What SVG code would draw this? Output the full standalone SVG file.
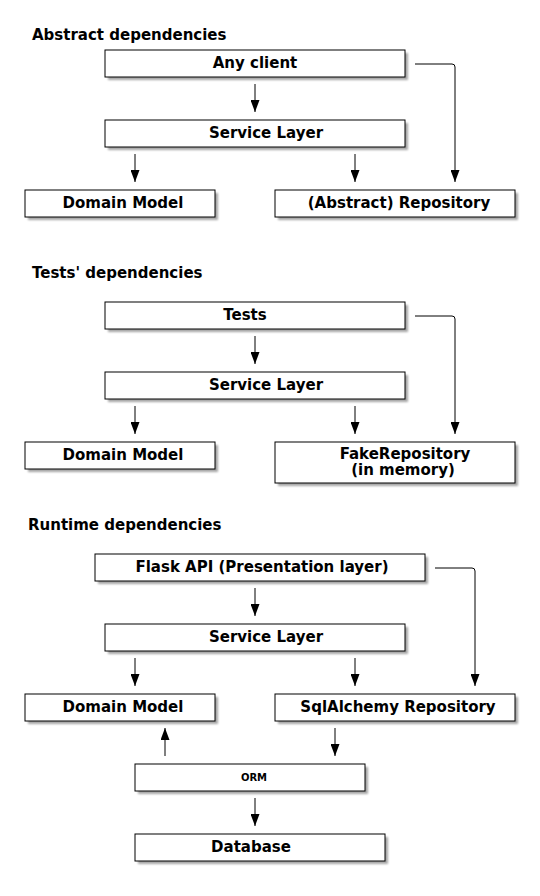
<svg xmlns="http://www.w3.org/2000/svg" width="540" height="896" viewBox="0 0 540 896">
<style>
text{font-family:"DejaVu Sans",sans-serif;font-weight:bold;font-size:15px;fill:#000}
.lbl{text-anchor:middle}
.box{fill:#fff;stroke:#000;stroke-width:1}
.sh{fill:#000;opacity:0.35;filter:url(#blur)}
.c{fill:none;stroke:#000;stroke-width:1}
</style>
<defs>
<filter id="blur" x="-10%" y="-50%" width="120%" height="200%"><feGaussianBlur stdDeviation="1"/></filter>
<marker id="tri" markerWidth="12" markerHeight="9" refX="12" refY="4.5" orient="auto" markerUnits="userSpaceOnUse" viewBox="0 0 12 9">
<path d="M0,0 L12,4.5 L0,9 Z" fill="#000"/>
</marker>
</defs>
<rect width="540" height="896" fill="#fff"/>

<text x="32" y="40">Abstract dependencies</text>
<text x="32" y="278">Tests' dependencies</text>
<text x="28" y="530">Runtime dependencies</text>

<g id="connectors">
<path class="c" marker-end="url(#tri)" d="M255,84 V112"/>
<path class="c" marker-end="url(#tri)" d="M135,154 V182"/>
<path class="c" marker-end="url(#tri)" d="M355,154 V182"/>
<path class="c" marker-end="url(#tri)" d="M415,64 H452 Q455,64 455,67 V182"/>

<path class="c" marker-end="url(#tri)" d="M255,336 V364"/>
<path class="c" marker-end="url(#tri)" d="M135,406 V434"/>
<path class="c" marker-end="url(#tri)" d="M355,406 V434"/>
<path class="c" marker-end="url(#tri)" d="M415,316 H452 Q455,316 455,319 V434"/>

<path class="c" marker-end="url(#tri)" d="M255,588 V616"/>
<path class="c" marker-end="url(#tri)" d="M135,658 V686"/>
<path class="c" marker-end="url(#tri)" d="M355,658 V686"/>
<path class="c" marker-end="url(#tri)" d="M435,568 H472 Q475,568 475,571 V686"/>
<path class="c" marker-end="url(#tri)" d="M165,756 V728"/>
<path class="c" marker-end="url(#tri)" d="M335,728 V756"/>
<path class="c" marker-end="url(#tri)" d="M255,798 V826"/>
</g>

<g id="any-client"><rect class="sh" x="108" y="53" width="300" height="27"/><rect class="box" x="105" y="50" width="300" height="27"/><text class="lbl" x="255" y="68">Any client</text></g>
<g id="service-layer-1"><rect class="sh" x="108" y="123" width="300" height="27"/><rect class="box" x="105" y="120" width="300" height="27"/><text class="lbl" x="266" y="138">Service Layer</text></g>
<g id="domain-model-1"><rect class="sh" x="28" y="193" width="190" height="27"/><rect class="box" x="25" y="190" width="190" height="27"/><text class="lbl" x="123" y="208">Domain Model</text></g>
<g id="abstract-repository"><rect class="sh" x="278" y="193" width="240" height="27"/><rect class="box" x="275" y="190" width="240" height="27"/><text class="lbl" x="399" y="208">(Abstract) Repository</text></g>

<g id="tests"><rect class="sh" x="108" y="305" width="300" height="27"/><rect class="box" x="105" y="302" width="300" height="27"/><text class="lbl" x="245" y="320">Tests</text></g>
<g id="service-layer-2"><rect class="sh" x="108" y="375" width="300" height="27"/><rect class="box" x="105" y="372" width="300" height="27"/><text class="lbl" x="266" y="390">Service Layer</text></g>
<g id="domain-model-2"><rect class="sh" x="28" y="445" width="190" height="27"/><rect class="box" x="25" y="442" width="190" height="27"/><text class="lbl" x="123" y="460">Domain Model</text></g>
<g id="fake-repository"><rect class="sh" x="278" y="445" width="240" height="41"/><rect class="box" x="275" y="442" width="240" height="41"/><text class="lbl" x="405" y="459">FakeRepository</text><text class="lbl" x="403" y="475">(in memory)</text></g>

<g id="flask-api"><rect class="sh" x="98" y="557" width="330" height="27"/><rect class="box" x="95" y="554" width="330" height="27"/><text class="lbl" x="262" y="572">Flask API (Presentation layer)</text></g>
<g id="service-layer-3"><rect class="sh" x="108" y="627" width="300" height="27"/><rect class="box" x="105" y="624" width="300" height="27"/><text class="lbl" x="266" y="642">Service Layer</text></g>
<g id="domain-model-3"><rect class="sh" x="28" y="697" width="190" height="27"/><rect class="box" x="25" y="694" width="190" height="27"/><text class="lbl" x="123" y="712">Domain Model</text></g>
<g id="sqlalchemy-repository"><rect class="sh" x="278" y="697" width="240" height="27"/><rect class="box" x="275" y="694" width="240" height="27"/><text class="lbl" x="398" y="712">SqlAlchemy Repository</text></g>
<g id="orm"><rect class="sh" x="138" y="767" width="230" height="27"/><rect class="box" x="135" y="764" width="230" height="27"/><text class="lbl" x="254" y="781" style="font-size:10px">ORM</text></g>
<g id="database"><rect class="sh" x="138" y="837" width="250" height="27"/><rect class="box" x="135" y="834" width="250" height="27"/><text class="lbl" x="251" y="852">Database</text></g>
</svg>
